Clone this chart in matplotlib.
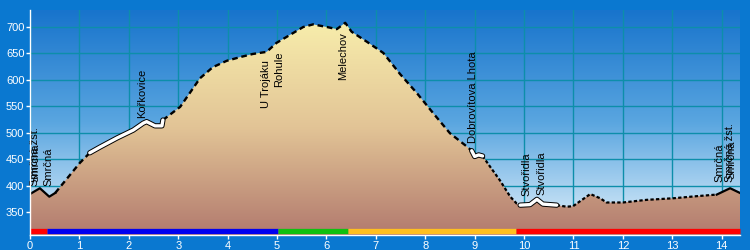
import matplotlib
matplotlib.use('Agg')
import matplotlib.pyplot as plt
import matplotlib.patheffects as pe
from matplotlib.colors import LinearSegmentedColormap
from matplotlib.patches import Polygon
import numpy as np

# elevation profile: distance (km) and altitude (m)
dist = [0.00, 0.20, 0.39, 0.51, 1.01, 1.21, 1.42, 1.76, 2.09, 2.29, 2.36, 2.53,
        2.67, 2.69, 3.04, 3.44, 3.70, 3.98, 4.25, 4.51, 4.79, 4.99, 5.26, 5.53,
        5.73, 6.01, 6.21, 6.38, 6.51, 6.82, 7.15, 7.49, 7.83, 8.16, 8.50, 8.84,
        8.94, 9.00, 9.08, 9.16, 9.31, 9.51, 9.72, 9.85, 9.92, 10.12, 10.26, 10.38,
        10.66, 10.86, 10.99, 11.34, 11.54, 11.67, 12.00, 12.48, 13.02, 13.50,
        13.90, 14.17, 14.37]
elev = [384, 395, 379, 386, 443, 462, 473, 490, 505, 518, 521, 513,
        513, 524, 549, 603, 624, 636, 643, 649, 653, 670, 685, 700,
        705, 700, 696, 708, 691, 672, 651, 611, 575, 537, 499, 474,
        466, 455, 458, 456, 436, 410, 379, 366, 363, 364, 374, 365,
        363, 360, 361, 384, 376, 368, 368, 373, 376, 380,
        383, 395, 386]

# how each stretch of the route is drawn: (from km, to km, kind)
stretches = [(0.00, 0.51, 'solid'),
             (0.51, 1.21, 'dashed'),
             (1.21, 2.69, 'white'),
             (2.69, 8.94, 'dashed'),
             (8.94, 9.16, 'white'),
             (9.16, 9.92, 'dotted'),
             (9.92, 10.66, 'white'),
             (10.66, 13.90, 'dotted'),
             (13.90, 14.37, 'solid')]

# places on the route
place_km = [0.10, 0.12, 0.37, 2.26, 4.77, 5.05, 6.33, 8.96, 10.05, 10.36, 13.96, 14.17, 14.19]
place_m = [400, 406, 400, 528, 638, 653, 691, 480, 380, 382, 407, 407, 413]
place_names = ['Smrčná žst.', 'Smrčná', 'Smrčná', 'Kořkovice', 'U Trojáku', 'Rohule',
               'Melechov', 'Dobrovítova Lhota', 'Stvořidla', 'Stvořidla', 'Smrčná',
               'Smrčná žst.', 'Smrčná']
place_side = ['up', 'up', 'up', 'up', 'down', 'down', 'down', 'up', 'up', 'up', 'up', 'up', 'up']

# coloured trail marks along the bottom
route_km = [0, 0.35, 5.02, 6.44, 9.84, 14.37]
route_colors = ['#ff0000', '#0000f0', '#10c010', '#ffbf20', '#ff0000']

xticks = list(range(0, 15))
yticks = [350, 400, 450, 500, 550, 600, 650, 700]

bg = '#0a78d0'
xmax = 14.37
ymin, ymax = 306.5, 732.2

fig = plt.figure(figsize=(7.5, 2.5), dpi=100, facecolor=bg)
ax = fig.add_axes([30/750, 15/250, 710/750, 225/250])
ax.set_xlim(0, xmax)
ax.set_ylim(ymin, ymax)

# sky gradient (first colour at the top)
sky = LinearSegmentedColormap.from_list('sky', ['#1874cc', '#5aa6e0', '#e4f2fb'])
grad = np.linspace(0, 1, 256).reshape(-1, 1)
ax.imshow(grad, cmap=sky, extent=[0, xmax, ymin, ymax], origin='upper',
          aspect='auto', zorder=0)

# ground gradient clipped to the profile
ground = LinearSegmentedColormap.from_list('ground', ['#f8eeac', '#e2c496', '#b27a6e'])
gimg = ax.imshow(grad, cmap=ground, extent=[0, xmax, ymin, 712], origin='upper',
                 aspect='auto', zorder=1)
poly = Polygon(list(zip(dist, elev)) + [(dist[-1], ymin), (dist[0], ymin)],
               closed=True, facecolor='none', edgecolor='none')
ax.add_patch(poly)
gimg.set_clip_path(poly)
ax.set_xlim(0, xmax)
ax.set_ylim(ymin, ymax)

ax.set_axisbelow(True)
ax.grid(True, color='#0d8eaa', linewidth=1)

d = np.array(dist)
e = np.array(elev)
for a, b, kind in stretches:
    m = (d >= a - 1e-9) & (d <= b + 1e-9)
    if kind == 'solid':
        ax.plot(d[m], e[m], color='black', lw=1.6, zorder=3)
    elif kind == 'dashed':
        ax.plot(d[m], e[m], color='black', lw=1.7, dashes=(2.4, 1.6), zorder=3)
    elif kind == 'dotted':
        ax.plot(d[m], e[m], color='black', lw=1.6, dashes=(1.5, 1.0), zorder=3)
    else:
        ax.plot(d[m], e[m], color='white', lw=2.4, zorder=4, solid_capstyle='round',
                path_effects=[pe.Stroke(linewidth=3.8, foreground='black'), pe.Normal()])

for x, y, name, side in zip(place_km, place_m, place_names, place_side):
    ax.text(x, y, name, rotation=90, ha='center', va='bottom' if side == 'up' else 'top',
            fontsize=8, family='Liberation Sans', color='black', zorder=5)

# trail colour bar
bar_tr = ax.get_xaxis_transform()
for i in range(len(route_colors)):
    ax.plot([route_km[i], route_km[i + 1]], [0.018, 0.018], color=route_colors[i],
            lw=3.8, transform=bar_tr, solid_capstyle='butt', zorder=6, clip_on=False)

ax.set_xticks(xticks)
ax.set_yticks(yticks)
ax.tick_params(colors='white', labelcolor='white', labelsize=8, length=3, width=1, pad=1)
for lab in ax.get_xticklabels() + ax.get_yticklabels():
    lab.set_family('Liberation Sans')
for s in ['top', 'right']:
    ax.spines[s].set_visible(False)
for s in ['left', 'bottom']:
    ax.spines[s].set_color('white')
    ax.spines[s].set_linewidth(1)
    ax.spines[s].set_zorder(7)

fig.savefig('out.png', dpi=100, facecolor=bg)
